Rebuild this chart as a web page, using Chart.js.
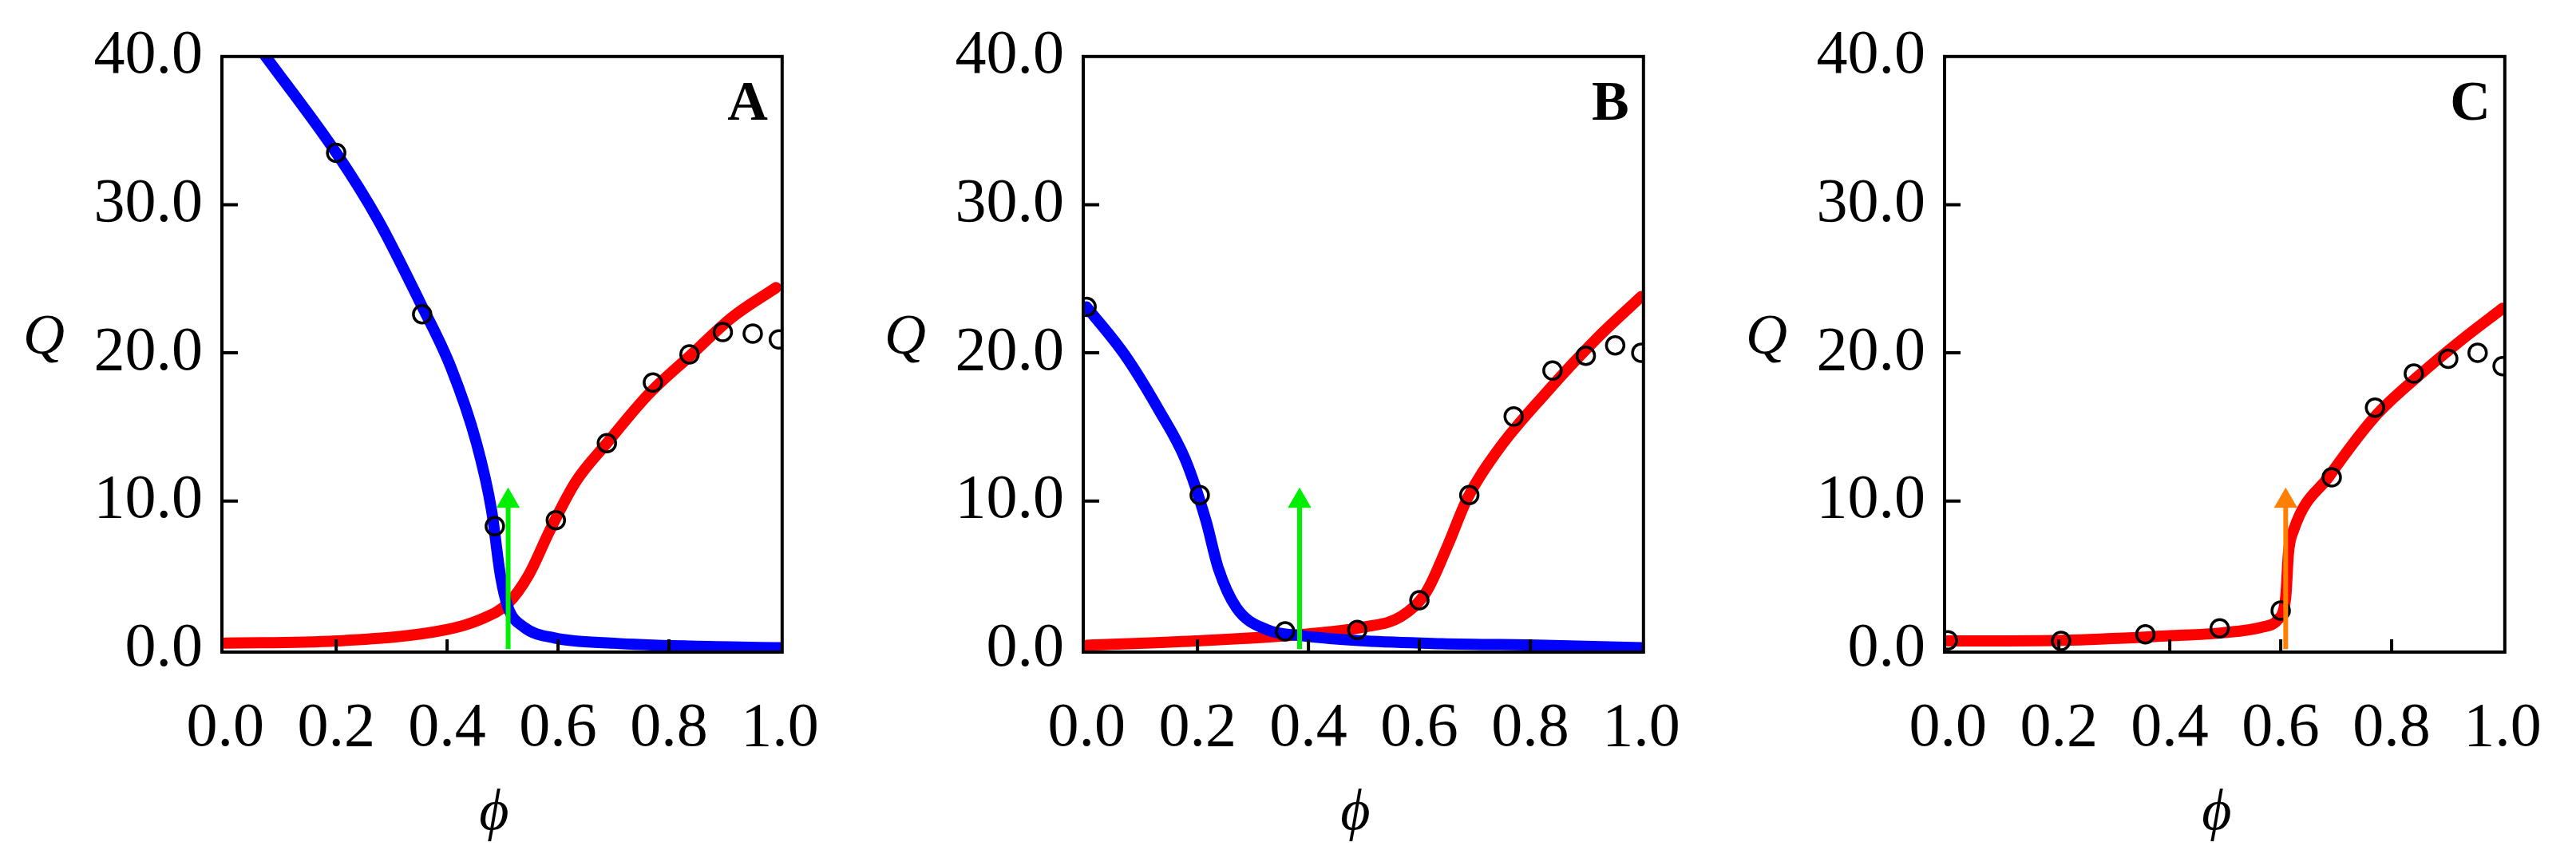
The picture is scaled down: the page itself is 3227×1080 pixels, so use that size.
<!DOCTYPE html>
<html>
<head>
<meta charset="utf-8">
<script src="https://cdn.jsdelivr.net/npm/chart.js@4/dist/chart.umd.min.js"></script>
<style>
  body { margin: 0; background: #fff; width: 3227px; height: 1080px; position: relative; overflow: hidden; }
  .panel { position: absolute; top: 0; width: 1076px; height: 1080px; }
</style>
</head>
<body>
<div class="panel" style="left:0px"><canvas id="chartA"></canvas></div>
<div class="panel" style="left:1079px"><canvas id="chartB"></canvas></div>
<div class="panel" style="left:2158px"><canvas id="chartC"></canvas></div>
<script>
// tick labels
const xTicks = [0, 0.2, 0.4, 0.6, 0.8, 1.0];
const yTicks = [0, 10, 20, 30, 40];

// panel A
const blueA_x = [0.069, 0.2, 0.275, 0.35, 0.407, 0.453, 0.48, 0.496, 0.51, 0.538, 0.594, 0.70, 0.84, 1.0];
const blueA_y = [40.2, 33.5, 29, 23.5, 19, 13.9, 9.4, 5, 2.8, 1.5, 0.75, 0.4, 0.2, 0.1];
const redA_x = [0, 0.2, 0.397, 0.46, 0.51, 0.547, 0.585, 0.632, 0.688, 0.763, 0.838, 0.914, 0.993];
const redA_y = [0.4, 0.55, 1.3, 2.0, 3.1, 5, 8, 11.3, 13.9, 17.2, 19.8, 22.4, 24.4];
const ptsA_x = [0.2, 0.355, 0.486, 0.596, 0.688, 0.771, 0.837, 0.897, 0.951, 0.998];
const ptsA_y = [33.5, 22.6, 8.3, 8.7, 13.9, 18.0, 19.9, 21.4, 21.3, 20.9];
const arrowA = 0.51;

// panel B
const blueB_x = [0, 0.07, 0.131, 0.178, 0.215, 0.238, 0.27, 0.326, 0.39, 0.502, 0.64, 0.826, 1.0];
const blueB_y = [23.1, 19.8, 16.1, 12.8, 8.7, 5.4, 2.8, 1.3, 0.9, 0.55, 0.37, 0.26, 0.1];
const redB_x = [0, 0.196, 0.39, 0.502, 0.567, 0.613, 0.65, 0.687, 0.743, 0.826, 0.918, 1.0];
const redB_y = [0.26, 0.55, 1.0, 1.5, 2.2, 3.9, 6.9, 10.2, 13.5, 17.2, 20.9, 23.8];
const ptsB_x = [0, 0.204, 0.358, 0.488, 0.6, 0.69, 0.77, 0.84, 0.9, 0.953, 1.0];
const ptsB_y = [23.1, 10.4, 1.2, 1.3, 3.3, 10.4, 15.7, 18.8, 19.8, 20.5, 20];
const arrowB = 0.384;

// panel C
const redC_x = [0, 0.208, 0.40, 0.494, 0.568, 0.595, 0.609, 0.614, 0.623, 0.688, 0.77, 0.844, 0.927, 1.0];
const redC_y = [0.55, 0.6, 0.9, 1.1, 1.5, 2, 3.5, 6.5, 8, 11.7, 15.7, 18.3, 20.9, 23];
const ptsC_x = [0, 0.204, 0.356, 0.49, 0.6, 0.692, 0.77, 0.84, 0.902, 0.955, 1.0];
const ptsC_y = [0.6, 0.55, 1.0, 1.4, 2.6, 11.6, 16.3, 18.6, 19.6, 20, 19.1];
const arrowC = 0.609;

const arrowY = [0, 10];
const FONT = "'Liberation Serif', 'DejaVu Serif', serif";

function toXY(xs, ys) {
  return xs.map((x, i) => ({ x, y: ys[i] }));
}

function lineSet(xs, ys, color) {
  return {
    data: toXY(xs, ys), showLine: true, borderColor: color, borderWidth: 14,
    pointRadius: 0, cubicInterpolationMode: "monotone", order: 2,
    borderCapStyle: "round",
  };
}

// frame, inside ticks, Q, phi and the panel letter
const decorPlugin = {
  id: "decor",
  afterDraw(chart, args, opts) {
    const { ctx, chartArea: a, scales } = chart;
    ctx.save();
    ctx.strokeStyle = "#000";
    ctx.lineWidth = 4;
    ctx.strokeRect(a.left, a.top, a.right - a.left, a.bottom - a.top);
    ctx.beginPath();
    [10, 20, 30].forEach((v) => {
      const y = scales.y.getPixelForValue(v);
      ctx.moveTo(a.left, y);
      ctx.lineTo(a.left + 20, y);
    });
    [0.2, 0.4, 0.6, 0.8].forEach((v) => {
      const x = scales.x.getPixelForValue(v);
      ctx.moveTo(x, a.bottom);
      ctx.lineTo(x, a.bottom - 16);
    });
    ctx.stroke();
    ctx.fillStyle = "#000";
    ctx.font = `italic 72px ${FONT}`;
    ctx.textAlign = "center";
    ctx.textBaseline = "middle";
    ctx.fillText("Q", 55, 424);
    ctx.fillText("\u03d5", (a.left + a.right) / 2 - 10, 1020);
    ctx.font = `bold 70px ${FONT}`;
    ctx.textAlign = "right";
    ctx.textBaseline = "top";
    ctx.fillText(opts.letter, a.right - 18, a.top + 26);
    ctx.restore();
  },
};

function makeChart(id, letter, lines, pxs, pys, arrowX, arrowColor) {
  const datasets = lines.map((l) => lineSet(l[0], l[1], l[2]));
  datasets.push({
    data: toXY(pxs, pys), showLine: false, pointRadius: 11, pointBorderWidth: 3.5,
    pointBorderColor: "#000", pointBackgroundColor: "rgba(0,0,0,0)", order: 1,
  });
  datasets.push({
    data: toXY([arrowX, arrowX], arrowY), showLine: true, borderColor: arrowColor,
    borderWidth: 6, pointStyle: "triangle", pointRadius: [0, 17], pointBorderWidth: 0,
    pointBackgroundColor: arrowColor, order: 0,
  });

  return new Chart(document.getElementById(id), {
    type: "scatter",
    data: { datasets },
    plugins: [decorPlugin],
    options: {
      responsive: true,
      maintainAspectRatio: false,
      animation: false,
      layout: { padding: { top: 62, right: 55, left: 0, bottom: 0 } },
      plugins: { legend: { display: false }, tooltip: { enabled: false }, decor: { letter } },
      scales: {
        x: {
          type: "linear", min: -0.006, max: 1.004,
          afterBuildTicks: (s) => { s.ticks = xTicks.map((v) => ({ value: v })); },
          afterFit: (s) => { s.height = 263; },
          grid: { display: false, drawTicks: false },
          border: { display: false },
          ticks: { padding: 50, color: "#000", font: { family: FONT, size: 78 }, maxRotation: 0,
            callback: (v) => v.toFixed(1) },
        },
        y: {
          min: -0.2, max: 40,
          afterBuildTicks: (s) => { s.ticks = yTicks.map((v) => ({ value: v })); },
          afterFit: (s) => { s.width = 278; },
          grid: { display: false, drawTicks: false },
          border: { display: false },
          ticks: { padding: 24, color: "#000", font: { family: FONT, size: 78 },
            callback: (v) => v.toFixed(1) },
        },
      },
    },
  });
}

makeChart("chartA", "A", [[blueA_x, blueA_y, "#0000ff"], [redA_x, redA_y, "#ff0000"]], ptsA_x, ptsA_y, arrowA, "#00ee00");
makeChart("chartB", "B", [[blueB_x, blueB_y, "#0000ff"], [redB_x, redB_y, "#ff0000"]], ptsB_x, ptsB_y, arrowB, "#00ee00");
makeChart("chartC", "C", [[redC_x, redC_y, "#ff0000"]], ptsC_x, ptsC_y, arrowC, "#ff8000");
</script>
</body>
</html>
